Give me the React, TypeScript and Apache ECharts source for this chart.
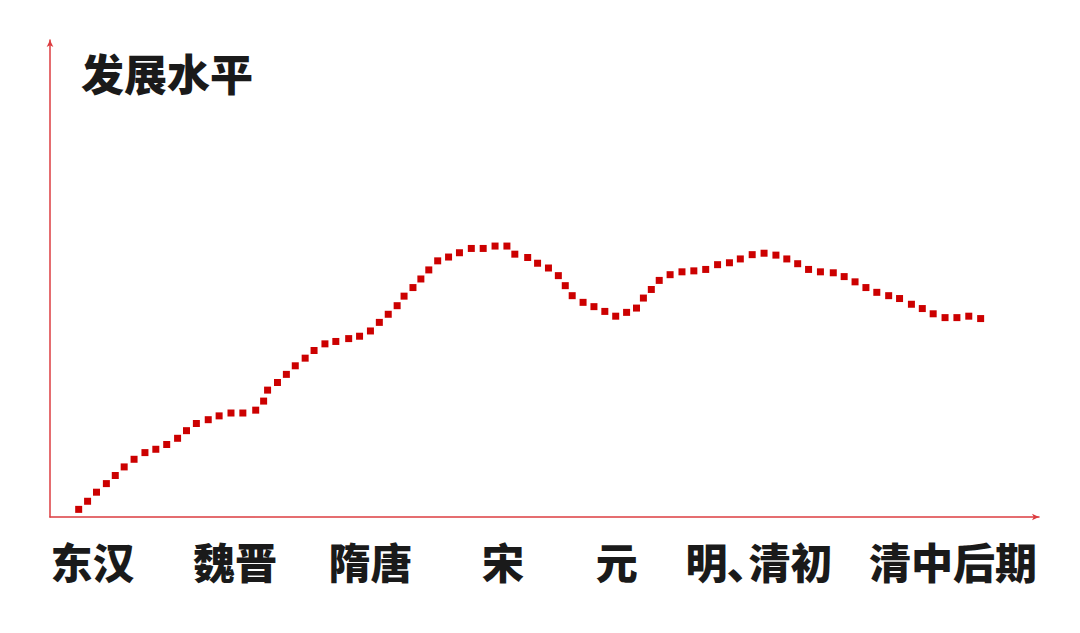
import React, { useEffect, useRef } from "react";
import * as echarts from "echarts";

// Period labels and their centre positions on the horizontal scale (0-100)
const periodLabels = ["东汉", "魏晋", "隋唐", "宋", "元", "明､清初", "清中后期"];
const periodPositions = [4.3, 18.7, 32.4, 45.8, 57.3, 71.7, 91.3];

// Development level curve: horizontal position (0-100) and level (0-100)
const xValues = [
  2.9, 3.8, 4.7, 5.7, 6.6, 7.5, 8.5, 9.6, 10.7, 11.8,
  12.9, 13.8, 14.8, 16.0, 17.1, 18.3, 19.5, 20.8, 21.6, 22.0,
  23.0, 23.9, 24.8, 25.8, 26.7, 27.8, 28.9, 30.2, 31.3, 32.4,
  33.3, 34.2, 35.1, 35.8, 36.7, 37.5, 38.3, 39.2, 40.3, 41.4,
  42.6, 43.8, 45.0, 46.2, 47.0, 48.3, 49.3, 50.4, 51.4, 52.1,
  52.8, 53.9, 55.0, 56.1, 57.2, 58.3, 59.3, 60.0, 60.8, 61.6,
  62.7, 63.9, 65.1, 66.3, 67.5, 68.7, 69.8, 71.0, 72.2, 73.4,
  74.5, 75.6, 76.7, 77.9, 79.2, 80.3, 81.4, 82.5, 83.6, 84.8,
  85.9, 87.1, 88.2, 89.3, 90.5, 91.7, 92.9, 94.1,
];
const levelValues = [
  1.6, 3.3, 5.2, 7.0, 8.7, 10.5, 12.1, 13.5, 14.2, 15.2,
  16.5, 18.1, 19.6, 20.4, 21.2, 21.8, 21.8, 22.4, 24.3, 26.6,
  28.2, 29.9, 31.7, 33.3, 34.9, 36.3, 36.8, 37.4, 37.9, 39.0,
  40.8, 42.5, 44.3, 46.3, 48.1, 49.9, 51.8, 53.7, 54.5, 55.4,
  56.3, 56.3, 56.8, 56.8, 55.1, 54.4, 53.2, 52.2, 50.6, 48.5,
  46.4, 45.0, 44.1, 43.1, 42.1, 42.9, 43.8, 45.9, 47.7, 49.6,
  50.8, 51.4, 51.6, 51.9, 52.9, 53.3, 54.1, 55.0, 55.3, 54.9,
  54.1, 53.1, 51.9, 51.4, 51.2, 50.4, 49.3, 48.1, 47.1, 46.4,
  45.8, 44.6, 43.7, 42.6, 41.8, 41.8, 42.1, 41.6,
];

const titleText = "发展水平";

export default function App() {
  const ref = useRef<HTMLDivElement>(null);

  useEffect(() => {
    if (!ref.current) return;
    const chart = echarts.init(ref.current, undefined, { renderer: "svg" });
    const axisColor = "#dc3c40";
    const font = '"Noto Sans CJK SC", "Noto Sans", sans-serif';
    const data = xValues.map((x, i) => [x, levelValues[i]]);

    chart.setOption({
      animation: false,
      backgroundColor: "#ffffff",
      title: {
        text: titleText,
        left: 76,
        top: 45,
        textStyle: {
          fontFamily: font,
          fontSize: 43,
          fontWeight: 900,
          color: "#1a1a1a",
        },
      },
      grid: { left: 50, right: 41, top: 40, bottom: 116, containLabel: false },
      xAxis: {
        type: "value",
        min: 0,
        max: 100,
        splitLine: { show: false },
        axisTick: { show: false },
        axisLine: {
          show: true,
          symbol: ["none", "arrow"],
          symbolSize: [5, 7],
          lineStyle: { color: axisColor, width: 1.5 },
        },
        axisLabel: {
          show: true,
          customValues: periodPositions,
          margin: 22,
          fontFamily: font,
          fontSize: 42,
          fontWeight: 900,
          color: "#1a1a1a",
          formatter: (v: number) => {
            let best = 0;
            periodPositions.forEach((p, i) => {
              if (Math.abs(p - v) < Math.abs(periodPositions[best] - v)) best = i;
            });
            return periodLabels[best];
          },
        },
      },
      yAxis: {
        type: "value",
        min: 0,
        max: 100,
        splitLine: { show: false },
        axisTick: { show: false },
        axisLabel: { show: false },
        axisLine: {
          show: true,
          symbol: ["none", "arrow"],
          symbolSize: [5, 7],
          lineStyle: { color: axisColor, width: 1.5 },
        },
      },
      series: [
        {
          type: "scatter",
          data,
          symbol: "rect",
          symbolSize: 7,
          itemStyle: { color: "#cc0000", opacity: 1 },
        },
      ],
    });

    return () => chart.dispose();
  }, []);

  return (
    <div
      ref={ref}
      style={{ position: "fixed", left: 0, top: 0, width: 1080, height: 633 }}
    />
  );
}
